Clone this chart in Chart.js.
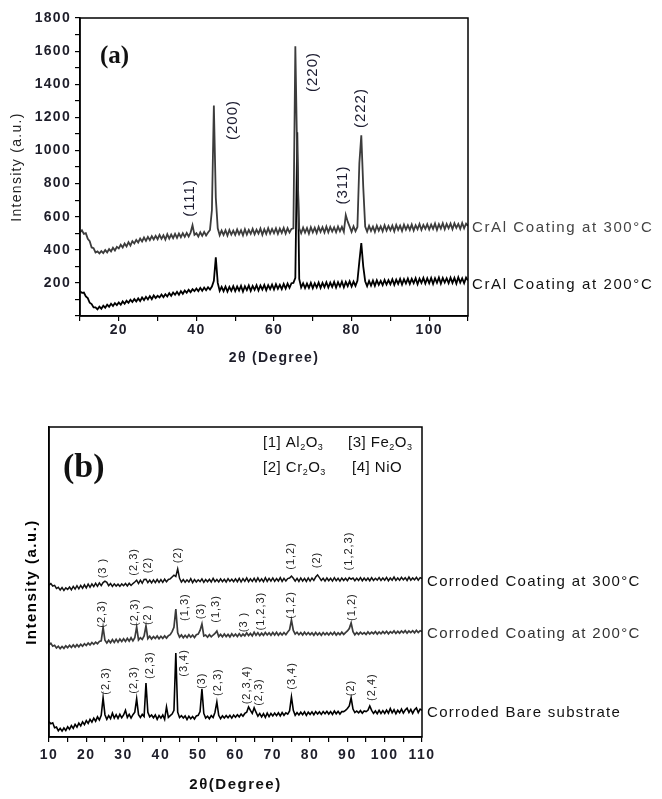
<!DOCTYPE html>
<html>
<head>
<meta charset="utf-8">
<script src="https://cdn.jsdelivr.net/npm/chart.js@4.4.1/dist/chart.umd.min.js"></script>
<style>
  body { margin: 0; background: #fff; }
  canvas { display: block; }
</style>
</head>
<body>
<canvas id="chartA" width="662" height="400"></canvas>
<canvas id="chartB" width="662" height="399"></canvas>
<script>
// 2-theta scan positions (degrees), shared by every pattern
const twoTheta = [
  10, 10.5, 11, 11.5, 12, 12.5, 13, 13.5, 14, 14.5,
  15, 15.5, 16, 16.5, 17, 17.5, 18, 18.5, 19, 19.5,
  20, 20.5, 21, 21.5, 22, 22.5, 23, 23.5, 24, 24.5,
  25, 25.5, 26, 26.5, 27, 27.5, 28, 28.5, 29, 29.5,
  30, 30.5, 31, 31.5, 32, 32.5, 33, 33.5, 34, 34.5,
  35, 35.5, 36, 36.5, 37, 37.5, 38, 38.5, 39, 39.5,
  40, 40.5, 41, 41.5, 42, 42.5, 43, 43.5, 44, 44.5,
  45, 45.5, 46, 46.5, 47, 47.5, 48, 48.5, 49, 49.5,
  50, 50.5, 51, 51.5, 52, 52.5, 53, 53.5, 54, 54.5,
  55, 55.5, 56, 56.5, 57, 57.5, 58, 58.5, 59, 59.5,
  60, 60.5, 61, 61.5, 62, 62.5, 63, 63.5, 64, 64.5,
  65, 65.5, 66, 66.5, 67, 67.5, 68, 68.5, 69, 69.5,
  70, 70.5, 71, 71.5, 72, 72.5, 73, 73.5, 74, 74.5,
  75, 75.5, 76, 76.5, 77, 77.5, 78, 78.5, 79, 79.5,
  80, 80.5, 81, 81.5, 82, 82.5, 83, 83.5, 84, 84.5,
  85, 85.5, 86, 86.5, 87, 87.5, 88, 88.5, 89, 89.5,
  90, 90.5, 91, 91.5, 92, 92.5, 93, 93.5, 94, 94.5,
  95, 95.5, 96, 96.5, 97, 97.5, 98, 98.5, 99, 99.5,
  100, 100.5, 101, 101.5, 102, 102.5, 103, 103.5, 104, 104.5,
  105, 105.5, 106, 106.5, 107, 107.5, 108, 108.5, 109, 109.5,
  110
];

// (a) as-deposited CrAl coatings, intensity in counts
const crAl300 = [
  505, 518, 496, 500, 466, 452, 414, 410, 384, 390,
  378, 392, 380, 398, 384, 404, 390, 412, 396, 418,
  408, 430, 414, 438, 420, 446, 426, 452, 438, 460,
  444, 468, 450, 474, 454, 478, 458, 482, 462, 484,
  464, 490, 466, 488, 462, 494, 468, 492, 470, 496,
  472, 498, 476, 500, 478, 502, 480, 504, 548, 490,
  500, 480, 506, 484, 508, 486, 504, 520, 640, 1272,
  714, 530, 488, 516, 490, 518, 486, 520, 492, 516,
  490, 522, 494, 518, 488, 524, 492, 520, 496, 526,
  494, 522, 498, 528, 490, 524, 496, 530, 498, 526,
  500, 530, 496, 528, 502, 532, 498, 530, 504, 526,
  530, 1630, 930, 530, 500, 534, 504, 532, 498, 536,
  506, 534, 502, 538, 508, 536, 504, 540, 506, 538,
  510, 536, 506, 540, 512, 538, 508, 610, 570, 540,
  508, 542, 512, 538, 924, 1092, 780, 540, 510, 544,
  514, 540, 508, 546, 516, 542, 512, 548, 516, 544,
  518, 546, 512, 550, 520, 546, 514, 552, 522, 548,
  520, 552, 516, 548, 524, 556, 520, 550, 526, 554,
  522, 552, 526, 558, 520, 554, 528, 560, 524, 556,
  530, 558, 524, 560, 532, 556, 526, 562, 530, 558,
  544
];
const crAl200 = [
  150, 140, 142, 118, 108, 80, 72, 52, 52, 40,
  56, 44, 62, 50, 68, 56, 74, 60, 78, 66,
  82, 68, 88, 74, 92, 80, 98, 84, 102, 88,
  106, 90, 112, 96, 116, 100, 120, 102, 124, 108,
  122, 112, 130, 114, 132, 118, 138, 122, 142, 128,
  146, 128, 150, 134, 154, 140, 158, 144, 162, 150,
  166, 150, 170, 152, 172, 156, 174, 160, 178, 212,
  354, 200, 152, 176, 150, 178, 148, 176, 152, 180,
  150, 178, 154, 182, 148, 180, 156, 184, 152, 182,
  158, 186, 154, 184, 160, 188, 156, 186, 162, 190,
  160, 192, 164, 188, 162, 194, 166, 196, 170, 198,
  200, 230, 1110, 224, 172, 198, 168, 196, 170, 200,
  168, 198, 172, 202, 170, 200, 174, 204, 172, 202,
  176, 206, 172, 204, 178, 208, 174, 206, 180, 210,
  178, 208, 182, 212, 330, 440, 300, 210, 180, 212,
  184, 214, 182, 216, 188, 212, 186, 218, 190, 216,
  192, 222, 188, 220, 194, 224, 190, 222, 196, 226,
  194, 224, 198, 228, 192, 226, 200, 230, 196, 228,
  198, 230, 194, 228, 200, 232, 196, 230, 202, 228,
  198, 232, 200, 230, 196, 234, 202, 228, 198, 232,
  214
];
const seriesA = ["CrAl Coating at 300°C", "CrAl Coating at 200°C"];
const seriesALevel = [531, 187];
const planeLabels = ["(111)", "(200)", "(220)", "(311)", "(222)"];
const planeAt = [38.2, 49.3, 70.0, 77.7, 82.4];
const planeLevel = [713, 1184, 1474, 791, 1256];

// (b) corroded samples, offset intensity (a.u.)
const corroded300 = [
  49.0, 49.5, 48.7, 48.9, 47.9, 48.3, 47.4, 48.2, 47.3, 48.1,
  47.6, 48.4, 47.5, 48.6, 47.7, 48.8, 47.8, 48.9, 48.0, 49.1,
  48.1, 49.3, 48.3, 49.4, 48.5, 49.6, 48.6, 49.7, 48.8, 49.8,
  50.3, 49.9, 48.8, 49.5, 48.6, 49.4, 48.7, 49.3, 48.6, 49.4,
  48.8, 49.5, 48.7, 49.6, 48.9, 49.5, 50.0, 50.6, 49.5, 50.6,
  49.6, 50.8, 50.9, 49.8, 50.6, 49.7, 50.7, 49.8, 50.8, 49.9,
  50.8, 49.9, 50.9, 50.1, 50.8, 51.0, 51.6, 52.2, 51.8, 54.2,
  51.2, 50.0, 50.8, 49.9, 50.7, 50.0, 51.1, 49.8, 50.8, 50.0,
  50.7, 50.1, 51.0, 49.9, 50.8, 50.1, 50.9, 50.0, 51.2, 50.1,
  50.8, 50.0, 51.0, 50.1, 50.9, 50.0, 51.1, 50.2, 50.9, 50.1,
  51.0, 50.1, 51.2, 50.0, 51.1, 50.2, 51.3, 50.1, 51.0, 50.2,
  51.2, 50.1, 51.3, 50.2, 51.0, 50.1, 51.4, 50.2, 51.2, 50.3,
  51.3, 50.2, 51.1, 50.3, 51.4, 50.2, 51.2, 50.3, 51.1, 51.3,
  51.9, 51.2, 50.3, 51.2, 50.2, 51.3, 50.3, 51.2, 50.2, 51.3,
  50.3, 51.3, 50.5, 51.6, 52.3, 51.4, 50.5, 51.2, 50.3, 51.3,
  50.4, 51.2, 50.3, 51.4, 50.4, 51.2, 50.3, 51.3, 50.5, 51.2,
  50.4, 51.4, 50.9, 51.3, 50.4, 51.2, 50.5, 51.4, 50.4, 51.3,
  50.5, 51.3, 50.4, 51.4, 50.5, 51.2, 50.6, 51.4, 50.5, 51.3,
  50.6, 51.5, 50.4, 51.3, 50.6, 51.6, 50.5, 51.3, 50.6, 51.5,
  50.7, 51.4, 50.5, 51.6, 50.6, 51.3, 50.7, 51.5, 50.6, 51.4,
  51.1
];
const corroded200 = [
  29.7, 30.2, 29.3, 29.6, 28.7, 29.3, 28.5, 29.2, 28.6, 29.4,
  28.8, 29.6, 28.9, 29.7, 29.0, 29.8, 29.1, 29.9, 29.3, 30.1,
  29.5, 30.3, 29.7, 30.5, 29.9, 30.6, 30.1, 30.8, 31.0, 35.4,
  31.2, 30.3, 31.2, 30.4, 31.4, 30.5, 31.5, 30.6, 31.6, 30.8,
  31.7, 30.8, 31.8, 30.9, 32.0, 31.0, 32.0, 35.5, 31.3, 32.0,
  31.5, 32.6, 35.8, 31.7, 32.5, 31.6, 32.4, 31.8, 32.6, 31.7,
  32.5, 31.8, 32.6, 31.9, 32.7, 33.0, 34.0, 35.4, 41.3, 33.6,
  32.2, 32.9, 32.0, 32.8, 32.1, 33.0, 32.2, 32.9, 32.1, 33.0,
  33.2, 34.4, 36.5, 32.6, 32.9, 32.2, 33.0, 32.3, 32.9, 33.4,
  34.2, 32.4, 33.1, 32.3, 33.2, 32.4, 33.1, 32.3, 33.3, 32.5,
  33.2, 32.4, 33.3, 32.5, 33.2, 32.6, 33.6, 32.7, 33.4, 32.6,
  33.8, 32.8, 33.6, 32.7, 33.5, 32.8, 33.7, 32.9, 33.6, 32.8,
  33.7, 32.9, 33.8, 32.8, 33.6, 32.9, 33.7, 33.0, 33.9, 34.6,
  37.7, 34.4, 33.2, 33.8, 33.0, 33.7, 32.9, 33.8, 33.0, 33.7,
  33.0, 33.6, 32.8, 33.7, 32.9, 33.6, 32.8, 33.7, 33.0, 33.6,
  32.9, 33.7, 33.0, 33.8, 32.9, 33.6, 33.0, 33.8, 33.1, 33.7,
  34.2, 35.0, 36.8, 34.0, 33.0, 33.7, 33.1, 33.8, 33.2, 33.7,
  33.1, 33.9, 33.2, 33.8, 33.3, 34.0, 33.2, 33.9, 33.3, 34.0,
  33.4, 34.1, 33.3, 34.0, 33.5, 34.2, 33.4, 34.1, 33.5, 34.2,
  33.6, 34.3, 33.5, 34.2, 33.7, 34.3, 33.6, 34.4, 33.7, 34.3,
  34.0
];
const bareSubstrate = [
  4.9, 4.3, 4.6, 3.0, 3.2, 2.0, 2.8, 1.9, 2.9, 2.1,
  3.3, 2.5, 3.7, 2.8, 4.1, 3.2, 4.5, 3.6, 4.9, 4.0,
  5.3, 4.4, 5.7, 4.8, 6.1, 5.1, 6.5, 5.5, 7.0, 12.6,
  7.2, 5.7, 6.9, 5.9, 7.7, 6.1, 7.2, 6.0, 7.3, 6.2,
  7.1, 8.6, 6.3, 7.3, 6.1, 7.2, 8.0, 12.3, 7.2, 6.3,
  7.3, 6.6, 17.4, 8.0, 6.5, 7.1, 6.2, 7.1, 5.7, 6.9,
  6.1, 7.1, 5.7, 9.7, 6.3, 6.9, 7.4, 8.6, 27.1, 8.0,
  6.3, 6.9, 6.1, 6.8, 5.6, 6.7, 5.9, 6.6, 5.8, 6.8,
  7.0, 8.2, 15.5, 7.6, 6.1, 6.7, 5.9, 6.9, 6.3, 8.0,
  11.3, 7.0, 5.9, 6.8, 6.1, 6.9, 6.2, 7.0, 6.1, 7.1,
  6.4, 7.2, 6.5, 7.4, 6.7, 7.6, 8.0, 9.7, 8.6, 7.6,
  9.4, 8.0, 6.7, 7.6, 6.5, 7.5, 6.3, 7.7, 6.6, 7.6,
  6.8, 7.7, 6.9, 7.8, 6.8, 7.9, 7.0, 7.8, 7.4, 8.4,
  12.9, 8.6, 7.0, 7.9, 7.1, 8.0, 7.2, 8.1, 7.0, 8.0,
  7.3, 8.1, 7.2, 8.2, 7.4, 8.1, 7.3, 8.2, 7.5, 8.3,
  7.4, 8.2, 7.3, 8.4, 7.5, 8.3, 7.4, 8.2, 8.2, 8.6,
  9.2, 10.0, 12.6, 9.0, 7.9, 8.4, 7.8, 8.5, 7.7, 8.4,
  8.2, 8.6, 10.0, 8.6, 7.6, 8.4, 7.5, 8.6, 7.6, 8.5,
  7.6, 8.7, 7.7, 9.2, 7.8, 8.8, 7.5, 8.6, 7.8, 9.0,
  7.7, 8.7, 9.3, 7.9, 8.9, 7.6, 8.8, 9.4, 7.9, 9.0,
  8.6
];
const seriesB = ["Corroded Coating at 300°C", "Corroded Coating at 200°C", "Corroded Bare substrate"];
const seriesBLevel = [50, 33.2, 7.7];
const phaseText = [
  "(3 )", "(2,3)", "(2)", "(2)", "(1,2)", "(2)", "(1,2,3)",
  "(2,3)", "(2,3)", "(2 )", "(1,3)", "(3)", "(1,3)", "(3 )", "(1,2,3)", "(1,2)", "(1,2)",
  "(2,3)", "(2,3)", "(2,3)", "(3,4)", "(3)", "(2,3)", "(2,3,4)", "(2,3)", "(3,4)", "(2)", "(2,4)"
];
const phaseAt = [
  24.5, 32.8, 36.5, 44.6, 74.9, 81.9, 90.4,
  24.2, 33.1, 36.5, 46.5, 50.8, 54.8, 62.3, 66.8, 74.9, 91.2,
  25.3, 32.8, 37.1, 46.2, 51.0, 55.3, 63.1, 66.3, 75.1, 91.0, 96.6
];
const phaseLevel = [
  54.5, 56.5, 55.5, 58.7, 58.4, 57.1, 60.0,
  39.7, 40.3, 39.4, 41.9, 40.6, 41.3, 37.1, 40.6, 42.6, 41.9,
  18.1, 18.4, 23.2, 23.9, 18.1, 17.7, 16.8, 14.5, 19.7, 15.8, 16.1
];
const phaseKey = ["[1] Al2O3", "[2] Cr2O3", "[3] Fe2O3", "[4] NiO"];

const sans = "'Liberation Sans', Arial, sans-serif";
const tickColor = "#1e1e2a";

function toPoints(xs, ys) {
  return xs.map((x, i) => ({ x: x, y: ys[i] }));
}

function verticalText(ctx, text, x, y, font, color, spacing) {
  ctx.save();
  ctx.translate(x, y);
  ctx.rotate(-Math.PI / 2);
  ctx.font = font;
  ctx.fillStyle = color;
  ctx.letterSpacing = spacing;
  ctx.textAlign = "center";
  ctx.textBaseline = "middle";
  ctx.fillText(text, 0, 0);
  ctx.restore();
}

/* digits that follow a letter are written as subscripts */
function formulaText(ctx, text, x, y) {
  let cx = x;
  for (let i = 0; i < text.length; i++) {
    const ch = text[i];
    const sub = /[0-9]/.test(ch) && i > 0 && /[A-Za-z]/.test(text[i - 1]);
    ctx.font = sub ? `9px ${sans}` : `15px ${sans}`;
    ctx.fillText(ch, cx, sub ? y + 5 : y);
    cx += ctx.measureText(ch).width;
  }
}

function letterSpacing(px) {
  return {
    id: "letterSpacing",
    beforeDraw(chart) {
      chart.ctx.letterSpacing = px;
    },
    afterDraw(chart) {
      chart.ctx.letterSpacing = "0px";
    }
  };
}

function boxAround(chart) {
  const { ctx, chartArea } = chart;
  ctx.save();
  ctx.strokeStyle = "#000";
  ctx.lineWidth = 1.5;
  ctx.strokeRect(chartArea.left, chartArea.top, chartArea.right - chartArea.left, chartArea.bottom - chartArea.top);
  ctx.restore();
}

const annotateA = {
  id: "annotateA",
  afterDraw(chart) {
    const { ctx, chartArea, scales: { x, y } } = chart;
    boxAround(chart);
    planeLabels.forEach((t, i) => {
      verticalText(ctx, t, x.getPixelForValue(planeAt[i]), y.getPixelForValue(planeLevel[i]), `15px ${sans}`, "#1c1c30", "1px");
    });
    ctx.save();
    ctx.font = `15px ${sans}`;
    ctx.letterSpacing = "1.6px";
    ctx.textAlign = "left";
    ctx.textBaseline = "middle";
    const nameColors = ["#444", "#111"];
    seriesA.forEach((name, i) => {
      ctx.fillStyle = nameColors[i];
      ctx.fillText(name, chartArea.right + 4, y.getPixelForValue(seriesALevel[i]));
    });
    ctx.letterSpacing = "0px";
    ctx.fillStyle = "#111";
    ctx.font = "bold 25px 'Liberation Serif', 'Times New Roman', serif";
    ctx.fillText("(a)", chartArea.left + 20, chartArea.top + 39);
    ctx.restore();
  }
};

const annotateB = {
  id: "annotateB",
  afterDraw(chart) {
    const { ctx, chartArea, scales: { x, y } } = chart;
    boxAround(chart);
    phaseText.forEach((t, i) => {
      verticalText(ctx, t, x.getPixelForValue(phaseAt[i]), y.getPixelForValue(phaseLevel[i]), `11px ${sans}`, "#222", "1px");
    });
    ctx.save();
    ctx.font = `15px ${sans}`;
    ctx.letterSpacing = "1.3px";
    ctx.textAlign = "left";
    ctx.textBaseline = "middle";
    const nameColors = ["#111", "#333", "#111"];
    seriesB.forEach((name, i) => {
      ctx.fillStyle = nameColors[i];
      ctx.fillText(name, chartArea.right + 5, y.getPixelForValue(seriesBLevel[i]));
    });
    ctx.letterSpacing = "0.5px";
    ctx.fillStyle = "#111";
    formulaText(ctx, phaseKey[0], chartArea.left + 214, chartArea.top + 16);
    formulaText(ctx, phaseKey[1], chartArea.left + 214, chartArea.top + 41);
    formulaText(ctx, phaseKey[2], chartArea.left + 299, chartArea.top + 16);
    formulaText(ctx, phaseKey[3], chartArea.left + 303, chartArea.top + 41);
    ctx.letterSpacing = "0px";
    ctx.font = "bold 34px 'Liberation Serif', 'Times New Roman', serif";
    ctx.fillText("(b)", chartArea.left + 14, chartArea.top + 41);
    ctx.restore();
  }
};

new Chart(document.getElementById("chartA"), {
  type: "line",
  data: {
    datasets: [
      { label: seriesA[0], data: toPoints(twoTheta, crAl300), borderColor: "#3c3c3c", borderWidth: 1.8, pointRadius: 0, tension: 0 },
      { label: seriesA[1], data: toPoints(twoTheta, crAl200), borderColor: "#000", borderWidth: 1.8, pointRadius: 0, tension: 0 }
    ]
  },
  options: {
    responsive: false,
    animation: false,
    devicePixelRatio: 1,
    layout: { padding: { left: 0, top: 18, right: 194, bottom: 0 } },
    plugins: { legend: { display: false }, tooltip: { enabled: false } },
    scales: {
      x: {
        type: "linear",
        min: 10,
        max: 110,
        afterFit(scale) { scale.height = 84; },
        ticks: {
          stepSize: 10,
          autoSkip: false,
          maxRotation: 0,
          padding: 1,
          color: tickColor,
          font: { family: sans, size: 14, weight: "bold" },
          callback: v => (v % 20 === 0 ? v : "")
        },
        grid: { drawOnChartArea: false, tickLength: 5, color: "#000", lineWidth: 1.2 },
        border: { color: "#000", width: 1.5 },
        title: { display: true, text: "2θ (Degree)", color: "#1e1e2a", font: { family: sans, size: 14, weight: "bold" }, padding: { top: 0, bottom: 33 } }
      },
      y: {
        min: 0,
        max: 1800,
        afterFit(scale) { scale.width = 80; },
        ticks: {
          stepSize: 100,
          autoSkip: false,
          padding: 4,
          color: tickColor,
          font: { family: sans, size: 14, weight: "bold" },
          callback: v => (v % 200 === 0 && v > 0 ? v : "")
        },
        grid: { drawOnChartArea: false, tickLength: 5, color: "#000", lineWidth: 1.2 },
        border: { color: "#000", width: 1.5 },
        title: { display: true, text: "Intensity (a.u.)", color: "#222", font: { family: sans, size: 14 }, padding: { top: 9, bottom: 0 } }
      }
    }
  },
  plugins: [letterSpacing("1.3px"), annotateA]
});

new Chart(document.getElementById("chartB"), {
  type: "line",
  data: {
    datasets: [
      { label: seriesB[0], data: toPoints(twoTheta, corroded300), borderColor: "#111", borderWidth: 1.5, pointRadius: 0, tension: 0 },
      { label: seriesB[1], data: toPoints(twoTheta, corroded200), borderColor: "#3a3a3a", borderWidth: 1.7, pointRadius: 0, tension: 0 },
      { label: seriesB[2], data: toPoints(twoTheta, bareSubstrate), borderColor: "#000", borderWidth: 1.6, pointRadius: 0, tension: 0 }
    ]
  },
  options: {
    responsive: false,
    animation: false,
    devicePixelRatio: 1,
    layout: { padding: { left: 0, top: 27, right: 240, bottom: 0 } },
    plugins: { legend: { display: false }, tooltip: { enabled: false } },
    scales: {
      x: {
        type: "linear",
        min: 10,
        max: 110,
        afterFit(scale) { scale.height = 62; },
        ticks: {
          stepSize: 5,
          autoSkip: false,
          maxRotation: 0,
          padding: 5,
          color: tickColor,
          font: { family: sans, size: 14, weight: "bold" },
          callback: v => (v % 10 === 0 ? v : "")
        },
        grid: { drawOnChartArea: false, tickLength: 5, color: "#000", lineWidth: 1.2 },
        border: { color: "#000", width: 1.5 },
        title: { display: true, text: "2θ(Degree)", color: "#111", font: { family: sans, size: 15, weight: "bold" }, padding: { top: 0, bottom: 5 } }
      },
      y: {
        min: 0,
        max: 100,
        afterFit(scale) { scale.width = 49; },
        ticks: { display: false },
        grid: { display: false },
        border: { color: "#000", width: 1.5 },
        title: { display: true, text: "Intensity (a.u.)", color: "#000", font: { family: sans, size: 15, weight: "bold" }, padding: { top: 23, bottom: 0 } }
      }
    }
  },
  plugins: [letterSpacing("1.5px"), annotateB]
});
</script>
</body>
</html>
